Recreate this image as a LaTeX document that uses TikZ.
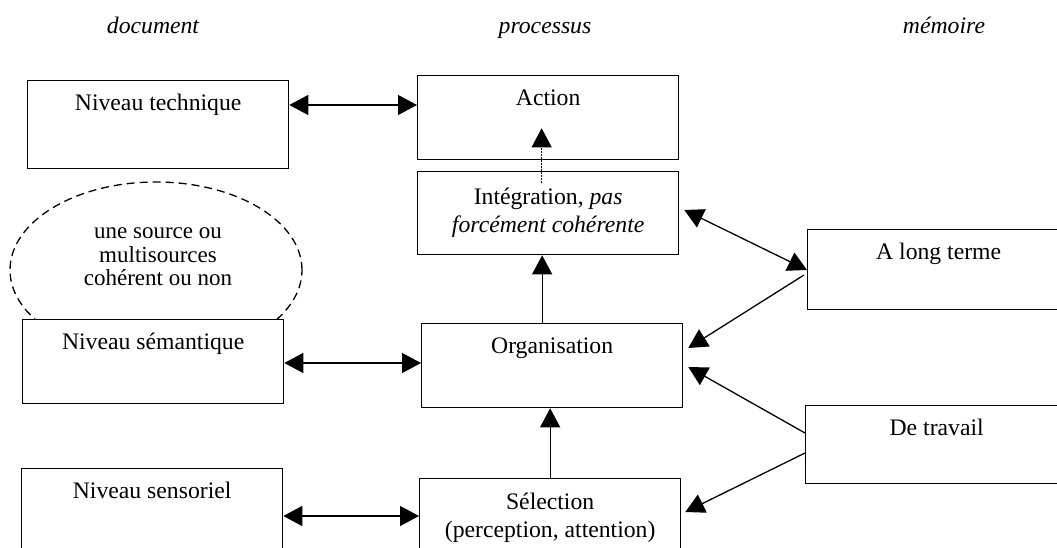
\documentclass[tikz,border=0pt]{standalone}
\usepackage{fontspec}
\setmainfont{Liberation Serif}
\usetikzlibrary{arrows.meta,shapes.geometric}
\begin{document}
\begin{tikzpicture}[x=1pt,y=-1pt,
		every node/.style={font=\fontsize{23.7pt}{28pt}\selectfont},
		boite/.style={draw, line width=1.3pt, fill=white, anchor=north west, minimum width=261pt, inner sep=0pt, text height=30pt, text depth=#1},
		boite2/.style={draw, line width=1.3pt, fill=white, anchor=north west, minimum width=261pt, minimum height=#1, inner sep=0pt, align=center},
		titre/.style={font=\fontsize{23.7pt}{28pt}\selectfont\itshape, anchor=base},
		fleche/.style={-{Triangle[length=19pt,width=20pt]}, line width=1.3pt},
		fleches/.style={{Triangle[length=19pt,width=20pt]}-{Triangle[length=19pt,width=20pt]}, line width=1.3pt},
		pointille/.style={fleche, line width=1pt, dash pattern=on 1.5pt off 1.5pt}]
		\useasboundingbox (0,0) rectangle (1057,548);
		\clip (0,0) rectangle (1057,548);
		\node[titre] (hdoc) at (153,34) {document};
		\node[titre] (hproc) at (545,34) {processus};
		\node[titre] (hmem) at (944,34) {mémoire};
		\node[ellipse, draw, line width=1.3pt, dash pattern=on 8pt off 5pt, minimum width=292pt, minimum height=176pt, inner sep=0pt] (nuage) at (156,270) {};
		\node[align=center, font=\fontsize{23pt}{23.5pt}\selectfont] (nuagetxt) at (158,257) {une source ou\\multisources\\cohérent ou non};
		\node[boite=58pt] (tech) at (27,80) {Niveau technique};
		\node[boite=54pt] (semant) at (22,319) {Niveau sémantique};
		\node[boite=58pt] (sensor) at (21,468) {Niveau sensoriel};
		\node[boite=54pt] (action) at (417,75) {Action};
		\node[boite2=83pt] (integ) at (417,171) {Intégration, \emph{pas}\\\emph{forcément cohérente}};
		\node[boite=54pt] (orga) at (421,323) {Organisation};
		\node[boite2=78pt] (select) at (419,478) {Sélection\\(perception, attention)};
		\node[boite=50pt, minimum width=262pt] (along) at (807,229) {A long terme};
		\node[boite=48pt, minimum width=262pt] (travail) at (805,405) {De travail};
		\draw[fleches] ([yshift=-25pt]tech.north east) -- ([yshift=-30pt]action.north west);
		\draw[fleches] ([yshift=-44pt]semant.north east) -- ([yshift=-40pt]orga.north west);
		\draw[fleches] ([yshift=-48pt]sensor.north east) -- ([yshift=-38pt]select.north west);
		\draw[fleche] ([xshift=-10pt]orga.north) -- ([xshift=-6pt]integ.south);
		\draw[fleche] (select.north) -- (select.north |- orga.south);
		\draw[pointille] ([shift={(-6.5pt,-12pt)}]integ.north) -- ([shift={(-6.5pt,32pt)}]action.south);
		\draw[fleches] ([shift={(5pt,-39pt)}]integ.north east) -- ([yshift=-41pt]along.north west);
		\draw[fleche] ([shift={(-3pt,-46pt)}]along.north west) -- ([shift={(5pt,-25pt)}]orga.north east);
		\draw[fleche] ([yshift=-28pt]travail.north west) -- ([shift={(5pt,-44pt)}]orga.north east);
		\draw[fleche] ([yshift=-48pt]travail.north west) -- ([shift={(4pt,-34pt)}]select.north east);
	\end{tikzpicture}
\end{document}
